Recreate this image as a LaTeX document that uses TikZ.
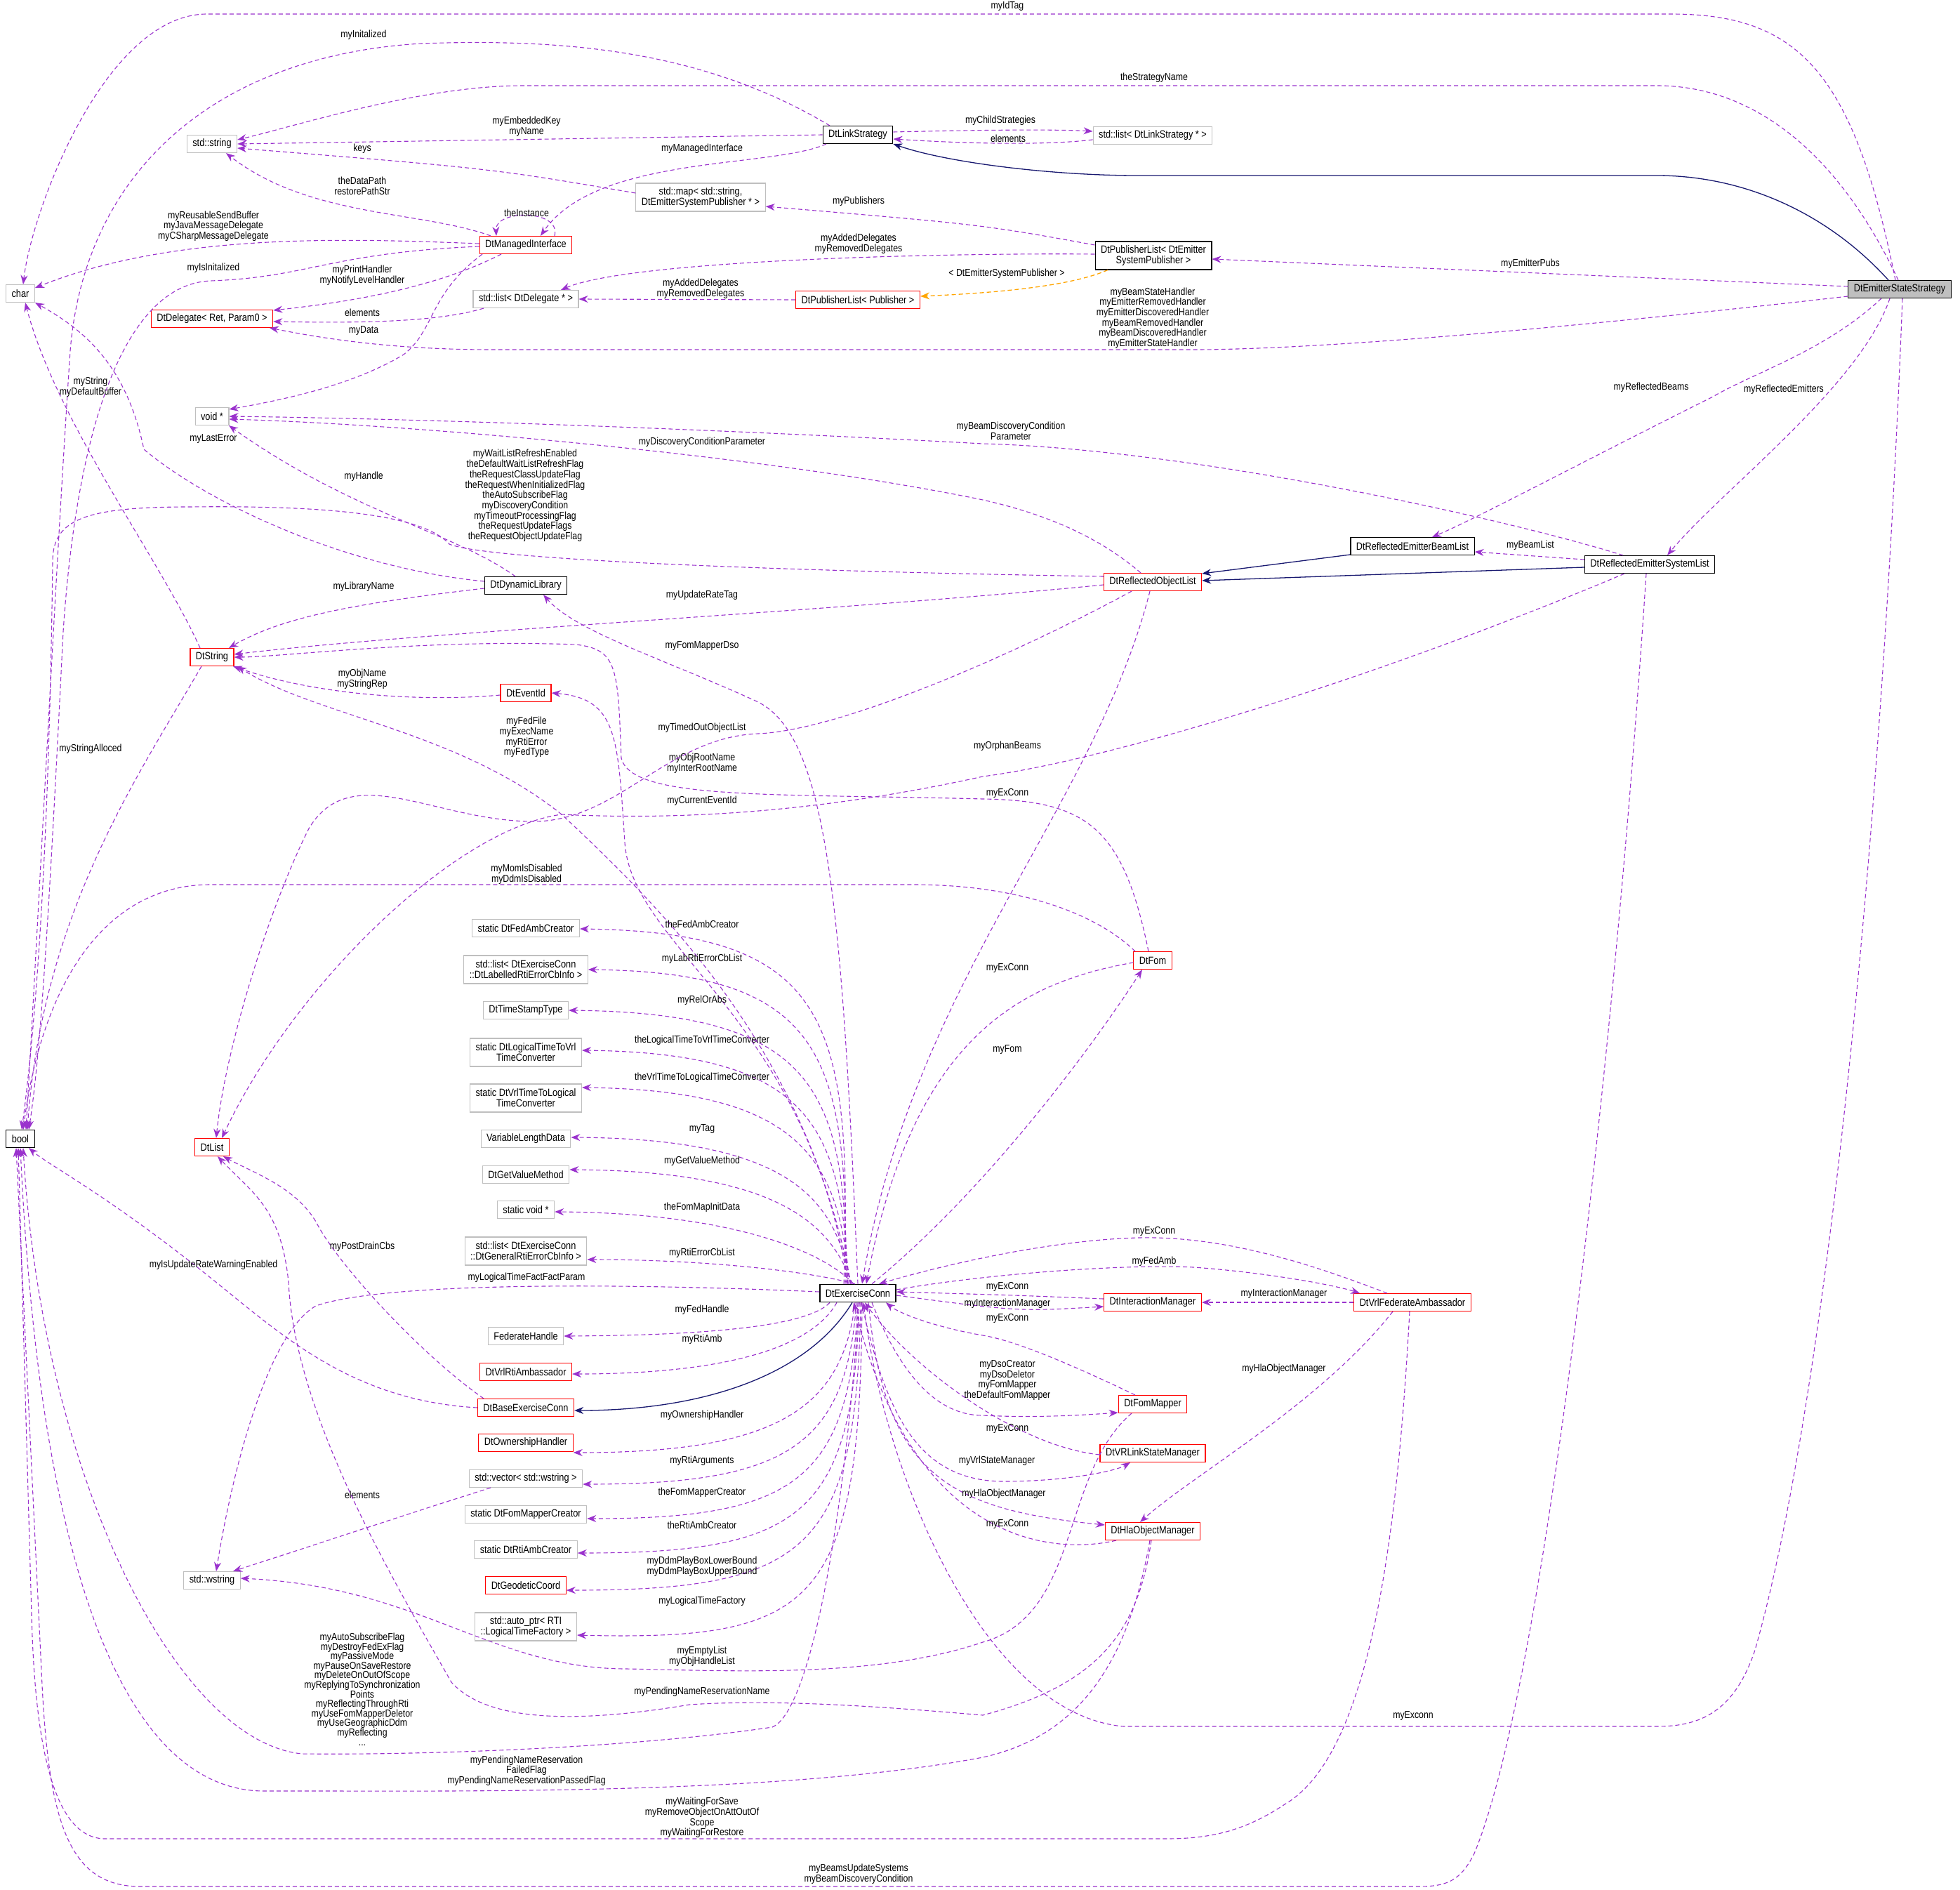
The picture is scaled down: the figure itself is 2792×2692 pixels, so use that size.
\documentclass[tikz,border=0pt]{standalone}
\usepackage{fontspec}
\setmainfont[FakeStretch=0.85]{Liberation Sans}
\usetikzlibrary{arrows.meta}
\definecolor{pcol}{HTML}{9A32CD}
\definecolor{navy}{HTML}{191970}
\definecolor{gcol}{HTML}{BFBFBF}
\definecolor{ocol}{HTML}{FFA500}
\newcommand\nfnt{\fontsize{15pt}{15pt}\selectfont}
\newcommand\lfnt{\fontsize{14.5pt}{14.7pt}\selectfont}
\begin{document}
\begin{tikzpicture}[x=1pt,y=-1pt,
 cls/.style={draw,rectangle,minimum height=25pt,inner xsep=8pt,inner ysep=2pt,font=\nfnt,align=center,line width=1.1pt},
 bk/.style={cls,draw=black},
 rd/.style={cls,draw=red},
 gy/.style={cls,draw=gcol},
 two/.style={minimum height=40pt},
 e/.style={draw=pcol,line width=1.1pt,dash pattern=on 6pt off 4pt,-{Stealth[length=13pt,width=10pt]}},
 inh/.style={draw=navy,line width=1.3pt,-{Stealth[length=13pt,width=10pt]}},
 org/.style={draw=ocol,line width=1.3pt,dash pattern=on 6pt off 4pt,-{Stealth[length=13pt,width=10pt]}},
 lbl/.style={font=\lfnt,align=center,inner sep=0pt}]
\useasboundingbox (0,0) rectangle (2792,2692);
% nodes
\node[bk,fill=gcol] (ess) at (2706,412) {DtEmitterStateStrategy};
\node[bk] (link) at (1222,192) {DtLinkStrategy};
\node[gy] (listlink) at (1642,193) {std::list< DtLinkStrategy * >};
\node[gy] (str) at (302,205) {std::string};
\node[gy,two] (map) at (998,281) {std::map< std::string,\\DtEmitterSystemPublisher * >};
\node[bk,two] (pubE) at (1643,364) {DtPublisherList< DtEmitter\\SystemPublisher >};
\node[rd] (mi) at (749,349) {DtManagedInterface};
\node[gy] (chr) at (29,418) {char};
\node[gy] (listdel) at (749,426) {std::list< DtDelegate * >};
\node[rd] (pubP) at (1222,427) {DtPublisherList< Publisher >};
\node[rd] (del) at (302,454) {DtDelegate< Ret, Param0 >};
\node[gy] (voidp) at (302,593) {void *};
\node[bk] (rebl) at (2012,778) {DtReflectedEmitterBeamList};
\node[bk] (resl) at (2350,804) {DtReflectedEmitterSystemList};
\node[rd] (rol) at (1642,829) {DtReflectedObjectList};
\node[bk] (dyn) at (749,834) {DtDynamicLibrary};
\node[rd] (dstr) at (302,936) {DtString};
\node[rd] (evt) at (749,987) {DtEventId};
\node[rd] (fom) at (1642,1368) {DtFom};
\node[bk] (boolN) at (29,1622) {bool};
\node[rd] (dlist) at (302,1634) {DtList};
\node[gy] (fedamb) at (749,1322) {static DtFedAmbCreator};
\node[gy,two] (lablist) at (749,1381) {std::list< DtExerciseConn\\::DtLabelledRtiErrorCbInfo >};
\node[gy] (tst) at (749,1439) {DtTimeStampType};
\node[gy,two] (ltv) at (749,1499) {static DtLogicalTimeToVrl\\TimeConverter};
\node[gy,two] (vtl) at (749,1564) {static DtVrlTimeToLogical\\TimeConverter};
\node[gy] (vld) at (749,1622) {VariableLengthData};
\node[gy] (gvm) at (749,1673) {DtGetValueMethod};
\node[gy] (svoid) at (749,1723) {static void *};
\node[gy,two] (genlist) at (749,1782) {std::list< DtExerciseConn\\::DtGeneralRtiErrorCbInfo >};
\node[bk,line width=1.6pt] (exc) at (1222,1842) {DtExerciseConn};
\node[gy] (fh) at (749,1903) {FederateHandle};
\node[rd] (vrlrti) at (749,1954) {DtVrlRtiAmbassador};
\node[rd] (base) at (749,2005) {DtBaseExerciseConn};
\node[rd] (own) at (749,2055) {DtOwnershipHandler};
\node[gy] (vec) at (749,2106) {std::vector< std::wstring >};
\node[gy] (fmc) at (749,2157) {static DtFomMapperCreator};
\node[gy] (rac) at (749,2207) {static DtRtiAmbCreator};
\node[rd] (geo) at (749,2258) {DtGeodeticCoord};
\node[gy,two] (autop) at (749,2317) {std::auto\_ptr< RTI\\::LogicalTimeFactory >};
\node[gy] (wstr) at (302,2251) {std::wstring};
\node[rd] (im) at (1642,1855) {DtInteractionManager};
\node[rd] (vfa) at (2012,1855) {DtVrlFederateAmbassador};
\node[rd] (fmap) at (1642,2000) {DtFomMapper};
\node[rd] (vrls) at (1642,2070) {DtVRLinkStateManager};
\node[rd] (hla) at (1642,2181) {DtHlaObjectManager};

% top edges
\draw[e] ([xshift=-6]ess.north) .. controls (2640,100) and (2560,20) .. (2380,20) -- (295,20) .. controls (150,20) and (45,300) .. ([xshift=4]chr.north);
\node[lbl] (l1) at (1435,9) {myIdTag};
\draw[e] ([xshift=-40]link.north) .. controls (1000,70) and (800,55) .. (600,62) .. controls (300,80) and (120,250) .. (100,500) .. controls (80,800) and (55,1300) .. ([xshift=8]boolN.north);
\node[lbl] (l2) at (518,50) {myInitalized};
\draw[e] ([xshift=-2]ess.north) .. controls (2620,220) and (2500,122) .. (2360,122) -- (745,122) .. controls (600,122) and (420,180) .. ([yshift=6]str.east);
\node[lbl] (l3) at (1644,111) {theStrategyName};
\draw[e] (link.west) -- (str.east);
\node[lbl] (l4) at (750,180) {myEmbeddedKey\\myName};
\draw[e] ([yshift=4]link.east) .. controls (1400,185) and (1500,184) .. ([yshift=6]listlink.west);
\node[lbl] (l5) at (1425,172) {myChildStrategies};
\draw[e] ([yshift=-6]listlink.west) .. controls (1500,206) and (1400,206) .. ([yshift=-6]link.east);
\node[lbl] (l6) at (1436,197) {elements};
\draw[inh] ([xshift=-16]ess.north) .. controls (2600,300) and (2480,250) .. (2360,250) -- (1620,250) .. controls (1500,250) and (1350,232) .. (link.south east);
\draw[e] ([yshift=6]map.west) .. controls (700,240) .. ([yshift=-6]str.east);
\node[lbl] (l8) at (516,212) {keys};
\draw[e] ([xshift=-50]mi.north) .. controls (600,300) and (440,310) .. ([xshift=20]str.south);
\node[lbl] (l9) at (516,265) {theDataPath\\restorePathStr};
\draw[e] ([xshift=-45]link.south) .. controls (1100,240) and (850,220) .. ([xshift=21]mi.north);
\node[lbl] (l10) at (1000,212) {myManagedInterface};
\draw[e] ([xshift=41]mi.north) .. controls (800,298) and (705,298) .. ([xshift=-42]mi.north);
\node[lbl] (l11) at (750,303) {theInstance};
\draw[e] ([yshift=4]ess.west) -- ([yshift=-5]pubE.east);
\node[lbl] (l12) at (2180,376) {myEmitterPubs};
\draw[e] ([yshift=15]pubE.west) .. controls (1400,320) .. ([yshift=-13]map.east);
\node[lbl] (l13) at (1223,287) {myPublishers};
\draw[e] ([yshift=2]pubE.west) .. controls (1350,360) and (900,370) .. ([xshift=50]listdel.north);
\node[lbl] (l14) at (1223,347) {myAddedDelegates\\myRemovedDelegates};
\draw[e] (pubP.west) -- (listdel.east);
\node[lbl] (l15) at (998,411) {myAddedDelegates\\myRemovedDelegates};
\draw[org] ([xshift=-65]pubE.south) .. controls (1520,410) and (1400,418) .. ([yshift=5]pubP.east);
\node[lbl] (l16) at (1434,390) {< DtEmitterSystemPublisher >};
\draw[e] ([yshift=2]mi.west) .. controls (500,340) and (250,330) .. ([yshift=8]chr.east);
\node[lbl] (l17) at (304,322) {myReusableSendBuffer\\myJavaMessageDelegate\\myCSharpMessageDelegate};
\draw[e] ([yshift=-2]mi.west) .. controls (470,360) and (440,395) .. (300,400) .. controls (180,405) and (110,600) .. (90,900) .. controls (70,1300) and (58,1500) .. ([xshift=12]boolN.north);
\node[lbl] (l18) at (304,382) {myIsInitalized};
\draw[e] ([xshift=-35]mi.south) .. controls (620,410) and (500,430) .. ([yshift=12]del.east);
\node[lbl] (l19) at (516,392) {myPrintHandler\\myNotifyLevelHandler};
\draw[e] ([xshift=-60]listdel.south) .. controls (620,460) and (500,460) .. ([yshift=-4]del.east);
\node[lbl] (l20) at (516,445) {elements};
\draw[e] ([yshift=-10]ess.west) .. controls (2300,460) and (1900,498) .. (1700,498) -- (700,498) .. controls (550,498) and (450,480) .. ([xshift=82]del.south);
\node[lbl] (l21) at (1642,453) {myBeamStateHandler\\myEmitterRemovedHandler\\myEmitterDiscoveredHandler\\myBeamRemovedHandler\\myBeamDiscoveredHandler\\myEmitterStateHandler};
\draw[e] ([xshift=-62]mi.south) .. controls (610,420) and (620,470) .. (575,505) .. controls (500,550) and (400,570) .. ([yshift=10]voidp.east);
\node[lbl] (l22) at (518,471) {myData};
\draw[e] ([xshift=-38]resl.north) .. controls (2150,740) and (1700,640) .. (1400,632) .. controls (900,605) and (500,595) .. (voidp.east);
\node[lbl] (l23) at (1440,614) {myBeamDiscoveryCondition\\Parameter};
\draw[e] ([xshift=-17]rol.north) .. controls (1560,760) and (1480,730) .. (1400,712) .. controls (1100,650) and (600,605) .. ([yshift=-4]voidp.east);
\node[lbl] (l24) at (1000,630) {myDiscoveryConditionParameter};
\draw[e] ([yshift=8]rol.west) .. controls (1200,815) and (700,800) .. (640,775) .. controls (600,730) and (450,720) .. (270,722) .. controls (120,722) and (75,740) .. (75,800) .. controls (70,1200) and (52,1450) .. ([xshift=2]boolN.north);
\node[lbl] (l25) at (748,706) {myWaitListRefreshEnabled\\theDefaultWaitListRefreshFlag\\theRequestClassUpdateFlag\\theRequestWhenInitializedFlag\\theAutoSubscribeFlag\\myDiscoveryCondition\\myTimeoutProcessingFlag\\theRequestUpdateFlags\\theRequestObjectUpdateFlag};
\draw[e] ([xshift=-26]ess.south) .. controls (2600,500) and (2500,530) .. (2440,565) .. controls (2250,660) and (2100,740) .. ([xshift=28]rebl.north);
\node[lbl] (l26) at (2352,552) {myReflectedBeams};
\draw[e] ([xshift=-14]ess.south) .. controls (2650,550) and (2450,700) .. ([xshift=25]resl.north);
\node[lbl] (l27) at (2541,555) {myReflectedEmitters};
\draw[inh] ([yshift=-12]rebl.west) -- ([yshift=12]rol.east);
\draw[inh] ([yshift=-4]resl.west) -- ([yshift=2]rol.east);
\draw[e] ([yshift=7]resl.west) -- ([yshift=-8]rebl.east);
\node[lbl] (l30) at (2180,777) {myBeamList};
\draw[e] ([xshift=-15]dyn.north) .. controls (650,760) and (500,730) .. ([xshift=24]voidp.south);
\node[lbl] (l31) at (518,679) {myHandle};
\draw[e] ([yshift=6]dyn.west) .. controls (500,810) and (300,720) .. (205,640) .. controls (180,520) and (120,470) .. (chr.south east);
\node[lbl] (l32) at (304,625) {myLastError};
\draw[e] ([yshift=-4]dyn.west) .. controls (500,860) and (400,880) .. ([xshift=24]dstr.north);
\node[lbl] (l33) at (518,836) {myLibraryName};
\draw[e] ([yshift=-4]rol.west) .. controls (1200,870) and (600,900) .. ([yshift=4]dstr.east);
\node[lbl] (l34) at (1000,848) {myUpdateRateTag};
\draw[e] ([xshift=-17]dstr.north) .. controls (230,800) and (80,600) .. ([xshift=7]chr.south);
\node[lbl] (l35) at (129,551) {myString\\myDefaultBuffer};
\draw[e] ([xshift=-15]dstr.south) .. controls (200,1100) and (60,1300) .. ([xshift=10]boolN.north);
\node[lbl] (l36) at (129,1067) {myStringAlloced};
\draw[e] ([yshift=-3]evt.west) .. controls (600,1000) and (450,990) .. ([xshift=30]dstr.south);
\node[lbl] (l37) at (516,967) {myObjName\\myStringRep};
\draw[e] ([xshift=-10]exc.north) .. controls (1150,1500) and (950,1300) .. (800,1160) .. controls (650,1040) and (450,1020) .. ([xshift=36]dstr.south);
\node[lbl] (l38) at (750,1050) {myFedFile\\myExecName\\myRtiError\\myFedType};
\draw[e] (exc.north) .. controls (1200,1300) and (1180,1050) .. (1080,1000) .. controls (950,940) and (820,900) .. ([xshift=25]dyn.south);
\node[lbl] (l39) at (1000,920) {myFomMapperDso};
\draw[e] ([xshift=-6]fom.north) .. controls (1600,1180) and (1550,1140) .. (1400,1138) .. controls (1100,1130) and (900,1140) .. (885,1080) .. controls (880,950) and (880,925) .. (820,918) .. controls (600,910) and (400,936) .. (dstr.east);
\node[lbl] (l40) at (1000,1087) {myObjRootName\\myInterRootName};
\draw[e] ([xshift=-14]exc.north) .. controls (1150,1450) and (900,1350) .. (890,1200) .. controls (880,1050) and (880,995) .. (evt.east);
\node[lbl] (l40b) at (1000,1141) {myCurrentEventId};
\draw[e] ([xshift=-4]rol.south) .. controls (1560,1150) and (1300,1400) .. ([xshift=6]exc.north);
\node[lbl] (l41) at (1435,1130) {myExConn};
\draw[e] ([xshift=-25]fom.north) .. controls (1560,1300) and (1450,1260) .. (1300,1260) -- (300,1260) .. controls (150,1260) and (60,1400) .. ([xshift=4]boolN.north);
\node[lbl] (l42) at (750,1245) {myMomIsDisabled\\myDdmIsDisabled};
\draw[e] ([yshift=-3]fom.west) .. controls (1450,1400) and (1300,1480) .. ([xshift=12]exc.north);
\node[lbl] (l43) at (1435,1379) {myExConn};
\draw[e] ([xshift=20]exc.north) .. controls (1400,1700) and (1550,1500) .. ([xshift=-15]fom.south);
\node[lbl] (l44) at (1435,1495) {myFom};
\draw[e] ([xshift=-30]rol.south) .. controls (1450,930) and (1200,1040) .. (1080,1045) .. controls (950,1050) and (880,1170) .. (760,1170) .. controls (620,1170) and (500,1080) .. (440,1180) .. controls (380,1300) and (320,1500) .. ([xshift=6]dlist.north);
\node[lbl] (l45) at (1000,1037) {myTimedOutObjectList};
\draw[e] ([xshift=-36]resl.south) .. controls (2000,950) and (1600,1080) .. (1400,1106) .. controls (1200,1150) and (1000,1170) .. (800,1160) .. controls (650,1180) and (420,1400) .. ([xshift=14]dlist.north);
\node[lbl] (l46) at (1435,1063) {myOrphanBeams};
\draw[e] ([xshift=4]ess.south) .. controls (2680,1200) and (2600,2000) .. (2500,2350) .. controls (2470,2440) and (2420,2459) .. (2360,2459) -- (1600,2459) .. controls (1400,2440) and (1260,2100) .. ([xshift=8]exc.south);
\node[lbl] (l47) at (2013,2444) {myExconn};
\draw[e] ([xshift=-5]resl.south) .. controls (2300,1500) and (2200,2400) .. (2100,2640) .. controls (2080,2680) and (2060,2687) .. (2020,2687) -- (200,2687) .. controls (100,2687) and (70,2600) .. (60,2400) -- ([xshift=-6]boolN.south);
\node[lbl] (l48) at (1223,2669) {myBeamsUpdateSystems\\myBeamDiscoveryCondition};
% left column from exc
\draw[e] ([xshift=-20]exc.north) .. controls (1215,1450) and (1180,1328) .. ([yshift=-1]fedamb.east);
\node[lbl] (c1) at (1000,1316) {theFedAmbCreator};
\draw[e] ([xshift=-18]exc.north) .. controls (1210,1500) and (1170,1385) .. (lablist.east);
\node[lbl] (c2) at (1000,1366) {myLabRtiErrorCbList};
\draw[e] ([xshift=-16]exc.north) .. controls (1205,1550) and (1160,1443) .. (tst.east);
\node[lbl] (c3) at (1000,1425) {myRelOrAbs};
\draw[e] ([xshift=-14]exc.north) .. controls (1200,1600) and (1150,1500) .. ([yshift=3]ltv.east);
\node[lbl] (c4) at (1000,1482) {theLogicalTimeToVrlTimeConverter};
\draw[e] ([xshift=-12]exc.north) .. controls (1195,1650) and (1140,1553) .. ([yshift=15]vtl.east);
\node[lbl] (c5) at (1000,1535) {theVrlTimeToLogicalTimeConverter};
\draw[e] ([xshift=-10]exc.north) .. controls (1190,1710) and (1130,1622) .. ([yshift=2]vld.east);
\node[lbl] (c6) at (1000,1608) {myTag};
\draw[e] ([xshift=-8]exc.north) .. controls (1185,1750) and (1120,1668) .. ([yshift=7]gvm.east);
\node[lbl] (c7) at (1000,1654) {myGetValueMethod};
\draw[e] ([xshift=-6]exc.north) .. controls (1175,1785) and (1050,1728) .. ([yshift=-3]svoid.east);
\node[lbl] (c8) at (1000,1720) {theFomMapInitData};
\draw[e] ([xshift=-4]exc.north) .. controls (1150,1810) and (1000,1794) .. ([yshift=-12]genlist.east);
\node[lbl] (c9) at (1000,1785) {myRtiErrorCbList};
\draw[e] ([yshift=2]exc.west) .. controls (900,1828) and (550,1825) .. (450,1860) .. controls (380,1900) and (330,2100) .. ([xshift=6]wstr.north);
\node[lbl] (c10) at (750,1820) {myLogicalTimeFactFactParam};
\draw[e] ([xshift=-40]exc.south) .. controls (1150,1890) and (1000,1902) .. (fh.east);
\node[lbl] (c11) at (1000,1866) {myFedHandle};
\draw[e] ([xshift=-30]exc.south) .. controls (1150,1930) and (1000,1957) .. ([yshift=-3]vrlrti.east);
\node[lbl] (c12) at (1000,1908) {myRtiAmb};
\draw[inh] ([xshift=-8]exc.south) .. controls (1150,1960) and (1000,2009) .. ([yshift=-4]base.east);
\draw[e] ([xshift=-4]exc.south) .. controls (1200,2010) and (1100,2069) .. ([yshift=-14]own.east);
\node[lbl] (c14) at (1000,2016) {myOwnershipHandler};
\draw[e] ([xshift=-2]exc.south) .. controls (1205,2060) and (1120,2114) .. ([yshift=-8]vec.east);
\node[lbl] (c15) at (1000,2081) {myRtiArguments};
\draw[e] (exc.south) .. controls (1210,2110) and (1130,2163) .. ([yshift=-6]fmc.east);
\node[lbl] (c16) at (1000,2126) {theFomMapperCreator};
\draw[e] ([xshift=2]exc.south) .. controls (1215,2160) and (1140,2212) .. ([yshift=-5]rac.east);
\node[lbl] (c17) at (1000,2172) {theRtiAmbCreator};
\draw[e] ([xshift=4]exc.south) .. controls (1220,2210) and (1150,2265) .. ([yshift=-7]geo.east);
\node[lbl] (c18) at (1000,2231) {myDdmPlayBoxLowerBound\\myDdmPlayBoxUpperBound};
\draw[e] ([xshift=6]exc.south) .. controls (1225,2290) and (1160,2337) .. ([yshift=-12]autop.east);
\node[lbl] (c19) at (1000,2281) {myLogicalTimeFactory};
\draw[e] (base.west) .. controls (500,1995) and (400,1900) .. (300,1820) .. controls (150,1700) and (70,1660) .. ([xshift=12]boolN.south);
\node[lbl] (c20) at (304,1802) {myIsUpdateRateWarningEnabled};
\draw[e] ([xshift=-60]base.north) .. controls (600,1930) and (480,1800) .. (450,1740) .. controls (420,1690) and (360,1670) .. ([xshift=16]dlist.south);
\node[lbl] (c21) at (516,1776) {myPostDrainCbs};
\draw[e] ([xshift=-50]vec.south) .. controls (600,2150) and (450,2200) .. ([xshift=30]wstr.north);
\node[lbl] (c22) at (516,2129) {elements};
\draw[e] ([xshift=-30]fmap.south) .. controls (1510,2100) and (1540,2300) .. (1400,2339) .. controls (1250,2390) and (1050,2380) .. (893,2377) .. controls (700,2377) and (600,2260) .. ([yshift=3]wstr.east);
\node[lbl] (c23) at (1000,2359) {myEmptyList\\myObjHandleList};
\draw[e] ([xshift=-2]hla.south) .. controls (1620,2330) and (1560,2400) .. (1400,2443) .. controls (1250,2430) and (1100,2420) .. (982,2428) .. controls (850,2450) and (700,2460) .. (643,2396) .. controls (560,2250) and (420,2016) .. (411,1826) .. controls (400,1720) and (360,1700) .. ([xshift=8]dlist.south);
\node[lbl] (c24) at (1000,2410) {myPendingNameReservationName};
\draw[e] ([xshift=2]exc.south) .. controls (1200,2200) and (1150,2440) .. (1100,2460) .. controls (900,2490) and (600,2500) .. (430,2498) .. controls (250,2480) and (60,2100) .. ([xshift=4]boolN.south);
\node[lbl,font=\fontsize{14.5pt}{13.6pt}\selectfont] (c25) at (516,2406) {myAutoSubscribeFlag\\myDestroyFedExFlag\\myPassiveMode\\myPauseOnSaveRestore\\myDeleteOnOutOfScope\\myReplyingToSynchronization\\Points\\myReflectingThroughRti\\myUseFomMapperDeletor\\myUseGeographicDdm\\myReflecting\\...};
\draw[e] ([xshift=-4]hla.south) .. controls (1610,2350) and (1550,2470) .. (1400,2503) .. controls (1100,2560) and (600,2550) .. (375,2551) .. controls (200,2550) and (60,2300) .. (boolN.south);
\node[lbl] (c26) at (750,2522) {myPendingNameReservation\\FailedFlag\\myPendingNameReservationPassedFlag};
\draw[e] ([xshift=-4]vfa.south) .. controls (1990,2200) and (1950,2500) .. (1830,2570) .. controls (1770,2610) and (1720,2619) .. (1660,2619) -- (150,2619) .. controls (80,2619) and (50,2500) .. (45,2300) -- ([xshift=-3]boolN.south);
\node[lbl] (c27) at (1000,2589) {myWaitingForSave\\myRemoveObjectOnAttOutOf\\Scope\\myWaitingForRestore};
% right cluster
\draw[e] ([xshift=-36]vfa.north) .. controls (1880,1805) and (1750,1760) .. (1622,1763) .. controls (1500,1766) and (1350,1800) .. ([xshift=30]exc.north);
\node[lbl] (r1) at (1644,1754) {myExConn};
\draw[e] ([yshift=5]exc.east) .. controls (1400,1815) and (1600,1800) .. (1700,1805) .. controls (1800,1812) and (1900,1830) .. ([xshift=-75]vfa.north);
\node[lbl] (r2) at (1644,1797) {myFedAmb};
\draw[e] ([yshift=5]im.west) .. controls (1450,1845) .. ([yshift=2]exc.east);
\node[lbl] (r3) at (1435,1833) {myExConn};
\draw[e] ([yshift=-3]exc.east) .. controls (1450,1868) .. ([yshift=-6]im.west);
\node[lbl] (r4) at (1435,1857) {myInteractionManager};
\draw[e] (vfa.west) -- (im.east);
\node[lbl] (r5) at (1829,1843) {myInteractionManager};
\draw[e] ([xshift=-25]fmap.north) .. controls (1540,1950) and (1450,1910) .. (1400,1902) .. controls (1330,1890) and (1280,1870) .. ([xshift=40]exc.south);
\node[lbl] (r6) at (1435,1878) {myExConn};
\draw[e] ([xshift=20]exc.south) .. controls (1280,1950) and (1330,2016) .. (1400,2016) .. controls (1480,2020) and (1550,2015) .. ([yshift=-12]fmap.west);
\node[lbl] (r7) at (1435,1966) {myDsoCreator\\myDsoDeletor\\myFomMapper\\theDefaultFomMapper};
\draw[e] ([yshift=-2]vrls.west) .. controls (1450,2060) and (1300,1950) .. ([xshift=10]exc.south);
\node[lbl] (r8) at (1435,2035) {myExConn};
\draw[e] ([xshift=5]exc.south) .. controls (1260,2000) and (1300,2110) .. (1430,2110) .. controls (1520,2110) and (1590,2095) .. ([xshift=-32]vrls.south);
\node[lbl] (r9) at (1420,2081) {myVrlStateManager};
\draw[e] ([xshift=15]exc.south) .. controls (1260,2100) and (1350,2150) .. ([yshift=9]hla.west);
\node[lbl] (r10) at (1430,2128) {myHlaObjectManager};
\draw[e] ([xshift=-52]hla.south) .. controls (1500,2215) and (1300,2200) .. ([xshift=-6]exc.south);
\node[lbl] (r11) at (1435,2171) {myExConn};
\draw[e] ([xshift=-28]vfa.south) .. controls (1880,2000) and (1700,2100) .. ([xshift=-18]hla.north);
\node[lbl] (r12) at (1829,1950) {myHlaObjectManager};
\end{tikzpicture}
\end{document}
